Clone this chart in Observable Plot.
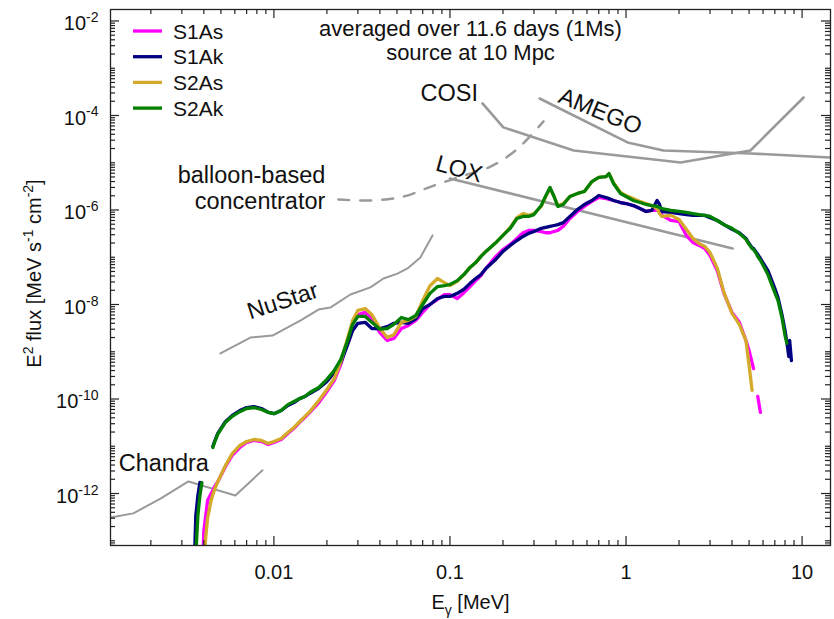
<!DOCTYPE html>
<html><head><meta charset="utf-8">
<script src="https://cdn.jsdelivr.net/npm/d3@7"></script>
<script src="https://cdn.jsdelivr.net/npm/@observablehq/plot@0.6"></script>
<style>
body{margin:0;background:#fff;}
svg{font-family:"Liberation Sans",Arial,Helvetica,sans-serif;}
</style></head><body><div id="chart"></div>
<script>
// ---------- data (E in MeV, E^2 flux in MeV s^-1 cm^-2) ----------
const energy = [
  0.0035,0.0036,0.0037,0.0038,0.0039,0.0040,0.0041,0.0042,0.0044,0.0045,   // 0-9
  0.0046,0.0048,0.0053,0.0058,0.0064,0.0070,0.0077,0.0085,0.0093,0.010,    // 10-19
  0.011,0.012,0.013,0.014,0.015,0.016,0.018,0.020,0.022,0.024,             // 20-29
  0.026,0.028,0.030,0.033,0.036,0.040,0.044,0.048,0.053,0.058,             // 30-39
  0.064,0.070,0.077,0.085,0.093,0.10,0.11,0.12,0.13,0.14,                  // 40-49
  0.15,0.16,0.18,0.20,0.22,0.24,0.26,0.28,0.30,0.33,                       // 50-59
  0.35,0.37,0.39,0.41,0.44,0.48,0.53,0.58,0.64,0.70,                       // 60-69
  0.77,0.80,0.85,0.93,1.0,1.1,1.2,1.3,1.4,1.5,                             // 70-79
  1.55,1.6,1.8,2.0,2.2,2.4,2.6,2.8,3.0,3.3,                                // 80-89
  3.6,4.0,4.4,4.8,5.0,5.2,5.3,5.45,5.6,5.8,                                // 90-99
  6.4,7.0,7.3,7.7,8.0,8.2,8.4,8.5,8.7                                      // 100-108
];
const S1As = [
  null,null,null,null,1e-14,1.65e-13,3.4e-13,7.1e-13,1.0e-12,1.16e-12,
  1.40e-12,1.78e-12,3.7e-12,6.4e-12,9.4e-12,1.2e-11,1.33e-11,1.26e-11,1.09e-11,1.2e-11,
  1.39e-11,1.87e-11,2.4e-11,3.2e-11,4.1e-11,5.2e-11,8.4e-11,1.44e-10,2.46e-10,5.4e-10,
  1.5e-9,3.8e-9,6.1e-9,6.8e-9,5.0e-9,2.55e-9,1.73e-9,1.91e-9,3.1e-9,3.6e-9,
  4.6e-9,6.8e-9,1.0e-8,1.28e-8,1.62e-8,1.62e-8,1.34e-8,1.78e-8,2.4e-8,3.2e-8,
  4.1e-8,5.8e-8,9.9e-8,1.46e-7,1.87e-7,2.5e-7,3.3e-7,3.7e-7,3.7e-7,3.5e-7,
  3.3e-7,3.3e-7,3.5e-7,3.7e-7,4.5e-7,6.6e-7,9.3e-7,1.19e-6,1.52e-6,1.84e-6,
  1.75e-6,1.68e-6,1.59e-6,1.44e-6,1.37e-6,1.24e-6,1.07e-6,9.3e-7,9.8e-7,9.8e-7,
  1.02e-6,7.7e-7,6.0e-7,5.7e-7,2.9e-7,2.05e-7,1.78e-7,1.53e-7,1.09e-7,5.2e-8,
  1.72e-8,6.8e-9,4.2e-9,1.73e-9,1.06e-9,5.9e-10,4.4e-10,null,1.13e-10,5.2e-11,
  null,null,null,null,null,null,null,null,null
];
const S1Ak = [
  1e-14,3.4e-13,9.1e-13,1.72e-12,null,null,null,null,null,9.9e-12,
  1.26e-11,1.87e-11,3.3e-11,4.5e-11,5.7e-11,6.6e-11,6.9e-11,6.3e-11,5.2e-11,4.9e-11,
  5.7e-11,7.3e-11,8.4e-11,1.02e-10,1.13e-10,1.31e-10,1.68e-10,2.35e-10,3.6e-10,5.9e-10,
  1.29e-9,2.8e-9,4.0e-9,4.2e-9,3.1e-9,3.1e-9,3.4e-9,4.0e-9,4.2e-9,4.0e-9,
  5.0e-9,8.2e-9,1.0e-8,1.34e-8,1.48e-8,1.48e-8,1.72e-8,2.1e-8,2.8e-8,3.55e-8,
  4.3e-8,5.8e-8,8.6e-8,1.33e-7,1.78e-7,2.26e-7,2.75e-7,3.2e-7,3.5e-7,4.1e-7,
  4.3e-7,4.5e-7,4.7e-7,4.9e-7,5.4e-7,7.3e-7,1.02e-6,1.31e-6,1.59e-6,2.03e-6,
  1.84e-6,1.75e-6,1.59e-6,1.44e-6,1.37e-6,1.24e-6,1.07e-6,9.3e-7,9.8e-7,1.59e-6,
  1.31e-6,9.3e-7,8.9e-7,8.4e-7,8.0e-7,7.7e-7,7.7e-7,7.7e-7,6.9e-7,6.0e-7,
  4.9e-7,3.9e-7,3.3e-7,2.5e-7,1.95e-7,1.59e-7,1.53e-7,1.33e-7,1.15e-7,9.4e-8,
  5.2e-8,2.2e-8,1.4e-8,5.9e-9,2.8e-9,1.57e-9,7.9e-10,1.73e-9,6.5e-10
];
const S2As = [
  null,null,null,null,null,3e-14,1.2e-13,3.0e-13,7.1e-13,9.5e-13,
  1.21e-12,1.78e-12,3.9e-12,7.0e-12,1.04e-11,1.26e-11,1.39e-11,1.33e-11,1.15e-11,1.26e-11,
  1.46e-11,1.95e-11,2.5e-11,3.3e-11,4.3e-11,5.4e-11,9.3e-11,1.59e-10,2.7e-10,6.2e-10,
  1.73e-9,4.6e-9,7.5e-9,8.2e-9,6.1e-9,3.1e-9,2.0e-9,2.3e-9,4.2e-9,4.6e-9,
  5.6e-9,1.21e-8,2.5e-8,3.55e-8,2.9e-8,2.5e-8,3.1e-8,4.3e-8,6.1e-8,7.7e-8,
  1.04e-7,1.33e-7,1.95e-7,2.9e-7,4.3e-7,6.9e-7,8.4e-7,7.7e-7,8.4e-7,1.19e-6,
  1.93e-6,2.86e-6,1.93e-6,1.24e-6,1.37e-6,1.93e-6,2.24e-6,2.46e-6,4.0e-6,4.9e-6,
  5.1e-6,5.9e-6,3.8e-6,2.35e-6,2.03e-6,1.75e-6,1.52e-6,1.37e-6,1.24e-6,1.07e-6,
  8.4e-7,7.3e-7,7.7e-7,6.3e-7,3.9e-7,2.5e-7,1.95e-7,1.7e-7,1.26e-7,5.8e-8,
  1.78e-8,6.5e-9,3.8e-9,1.73e-9,5.1e-10,1.52e-10,null,null,null,null,
  null,null,null,null,null,null,null,null,null
];
const S2Ak = [
  null,5e-14,3.4e-13,9.1e-13,1.7e-12,null,null,null,null,9.4e-12,
  1.2e-11,1.8e-11,3.2e-11,4.3e-11,5.4e-11,6.3e-11,6.6e-11,6.0e-11,5.2e-11,4.9e-11,
  5.7e-11,7.6e-11,8.9e-11,1.02e-10,1.13e-10,1.37e-10,1.75e-10,2.6e-10,4.0e-10,6.9e-10,
  1.57e-9,3.8e-9,5.6e-9,5.6e-9,4.2e-9,3.0e-9,3.1e-9,3.8e-9,5.3e-9,4.8e-9,
  5.9e-9,1.0e-8,1.72e-8,2.4e-8,2.5e-8,2.65e-8,3.2e-8,4.3e-8,6.1e-8,7.7e-8,
  1.04e-7,1.33e-7,1.95e-7,2.9e-7,4.1e-7,6.6e-7,7.3e-7,7.3e-7,8.0e-7,1.24e-6,
  2.0e-6,3.0e-6,1.93e-6,1.19e-6,1.31e-6,1.93e-6,2.24e-6,2.46e-6,4.0e-6,4.9e-6,
  5.1e-6,5.9e-6,3.6e-6,2.24e-6,1.93e-6,1.59e-6,1.44e-6,1.31e-6,1.24e-6,1.19e-6,
  1.13e-6,1.07e-6,9.8e-7,9.3e-7,8.9e-7,8.4e-7,8.0e-7,7.7e-7,7.3e-7,6.0e-7,
  4.9e-7,4.1e-7,3.2e-7,2.4e-7,1.87e-7,1.53e-7,1.46e-7,1.26e-7,1.04e-7,8.6e-8,
  4.3e-8,1.78e-8,1.21e-8,5.1e-9,2.2e-9,1.5e-9,null,null,null
];
const seriesNames  = ["S1As","S1Ak","S2As","S2Ak"];
const seriesColors = ["#ff00ff","#000080","#d4aa2a","#008000"];
const seriesValues = [S1As, S1Ak, S2As, S2Ak];

// instrument sensitivities
const chandraE = [0.00118,0.00159,0.00227,0.00327,0.00604,0.00861];
const chandraF = [3.1e-13,3.8e-13,7.8e-13,1.8e-12,9.1e-13,3.1e-12];
const nustarE  = [0.00497,0.00735,0.00981,0.0142,0.0179,0.0209,0.0272,0.0353,0.0419,0.0503,0.0574,0.0679,0.0796];
const nustarF  = [9.2e-10,2.0e-9,2.2e-9,4.6e-9,7.8e-9,8.6e-9,1.63e-8,2.3e-8,3.55e-8,4.5e-8,5.8e-8,9.9e-8,2.9e-7];
const balloonE = [0.0232,0.0353,0.0545,0.0775,0.115,0.170,0.236,0.340];
const balloonF = [1.67e-6,1.59e-6,1.93e-6,3.1e-6,5.1e-6,8.3e-6,1.82e-5,7.5e-5];
const loxE     = [0.100,4.03];
const loxF     = [4.64e-6,1.53e-7];
const cosiE    = [0.153,0.201,0.504,2.04,5.09,10.2];
const cosiF    = [1.80e-4,5.6e-5,1.82e-5,1.01e-5,1.82e-5,2.40e-4];
const amegoE   = [0.323,1.02,1.63,5.09,14.5];
const amegoF   = [2.29e-4,2.69e-5,1.82e-5,1.57e-5,1.29e-5];

// labels
const xTickValues = [0.01,0.1,1,10];
const xTickLabels = ["0.01","0.1","1","10"];
const yTickValues = [1e-12,1e-10,1e-8,1e-6,1e-4,1e-2];
const yTickLabels = ["10^{-12}","10^{-10}","10^{-8}","10^{-6}","10^{-4}","10^{-2}"];
const titleLines = ["averaged over 11.6 days (1Ms)","source at 10 Mpc"];
const annotations = [
  {text:"COSI", E:0.099, F:3.07e-4},
  {text:"AMEGO", E:0.716, F:1.25e-4},
  {text:"LOX", E:0.113, F:7.55e-6},
  {text:"balloon-based\nconcentrator", E:0.0196, F:2.92e-6},
  {text:"NuStar", E:0.0112, F:1.22e-8},
  {text:"Chandra", E:0.00237, F:4.53e-12}
];
const xLabel = "E_{γ} [MeV]";
const yLabel = "E^{2} flux [MeV s^{-1} cm^{-2}]";

// ---------- layout ----------
const W=834, H=619, mL=110, mR=4, mT=9, mB=74;
const fw = W-mL-mR, fh = H-mT-mB;
const xDomain = [0.00118, 14.5], yDomain = [7.94e-14, 1.75e-2];
const inX = v => v >= xDomain[0] && v <= xDomain[1];
const inY = v => v >= yDomain[0] && v <= yDomain[1];
const mults = [2,3,4,5,6,7,8,9];
const xMinor = [1e-3,1e-2,1e-1,1,10].flatMap(d => mults.map(m => +(m*d).toPrecision(3))).filter(inX);
const yMinor = d3.range(-14,-2).flatMap(e => mults.map(m => +(m*Math.pow(10,e)).toPrecision(3))).filter(inY)
  .concat([1e-13,1e-11,1e-9,1e-7,1e-5,1e-3]);

const pts = (E,F) => E.map((e,i) => ({E:e, F:F[i]}));
const gray = "#9a9a9a";
const tick = {stroke:"#222", strokeOpacity:1, strokeWidth:1.2};

const marks = [
  Plot.line(pts(chandraE,chandraF), {x:"E", y:"F", stroke:gray, strokeWidth:2, clip:true}),
  Plot.line(pts(nustarE,nustarF),   {x:"E", y:"F", stroke:gray, strokeWidth:2, clip:true}),
  Plot.line(pts(balloonE,balloonF), {x:"E", y:"F", stroke:gray, strokeWidth:2.4, strokeDasharray:"11,11", curve:"catmull-rom", clip:true}),
  Plot.line(pts(loxE,loxF),         {x:"E", y:"F", stroke:gray, strokeWidth:2.6, clip:true}),
  Plot.line(pts(cosiE,cosiF),       {x:"E", y:"F", stroke:gray, strokeWidth:2.6, clip:true}),
  Plot.line(pts(amegoE,amegoF),     {x:"E", y:"F", stroke:gray, strokeWidth:2.6, clip:true}),
];
seriesValues.forEach((vals,k) => {
  marks.push(Plot.line(pts(energy, vals), {x:"E", y:"F", stroke:seriesColors[k], strokeWidth:3.3, clip:true, strokeLinejoin:"round"}));
});
// annotations
const rot = {"AMEGO":22, "LOX":15, "NuStar":-18};
annotations.forEach(a => {
  marks.push(Plot.text([a], {x:"E", y:"F", text:"text", fontSize:23.5, fill:"#111",
    rotate: rot[a.text] || 0, textAnchor: a.text.startsWith("balloon") ? "end" : "middle", lineHeight:1.08}));
});
marks.push(
  Plot.text([titleLines[0]], {frameAnchor:"top", lineAnchor:"middle", dy:19, fontSize:22, fill:"#111"}),
  Plot.text([titleLines[1]], {frameAnchor:"top", lineAnchor:"middle", dy:43.5, fontSize:22, fill:"#111"}),
  // ticks (inward, mirrored)
  Plot.gridX(xTickValues, {...tick, insetTop: fh-9}),
  Plot.gridX(xTickValues, {...tick, insetBottom: fh-9}),
  Plot.gridX(xMinor, {...tick, insetTop: fh-5}),
  Plot.gridX(xMinor, {...tick, insetBottom: fh-5}),
  Plot.gridY(yTickValues, {...tick, insetRight: fw-9}),
  Plot.gridY(yTickValues, {...tick, insetLeft: fw-9}),
  Plot.gridY(yMinor, {...tick, insetRight: fw-5}),
  Plot.gridY(yMinor, {...tick, insetLeft: fw-5}),
  Plot.axisX(xTickValues, {anchor:"bottom", tickSize:0, tickPadding:19, label:null, fontSize:20,
    tickFormat: d => xTickLabels[xTickValues.indexOf(d)]}),
  Plot.axisY(yTickValues, {anchor:"left", tickSize:0, tickPadding:12, label:null, fontSize:20, dy:3,
    tickFormat: d => yTickLabels[yTickValues.indexOf(d)]}),
  Plot.text([xLabel], {frameAnchor:"bottom", lineAnchor:"middle", dy:57, fontSize:20, fill:"#111"}),
  Plot.text([yLabel], {frameAnchor:"left", textAnchor:"middle", lineAnchor:"middle", dx:-76, dy:-4, rotate:-90, fontSize:20, fill:"#111"}),
  Plot.frame({stroke:"#222", strokeWidth:1.3})
);

const chart = Plot.plot({
  width:W, height:H, marginLeft:mL, marginRight:mR, marginTop:mT, marginBottom:mB,
  x:{type:"log", domain:xDomain},
  y:{type:"log", domain:yDomain},
  style:{fontFamily:'"Liberation Sans",Arial,Helvetica,sans-serif', fontSize:"20px", background:"white", color:"#111"},
  marks
});
document.getElementById("chart").appendChild(chart);

// legend inside the frame
const svg = d3.select(chart);
const lg = svg.append("g").attr("text-anchor","start");
seriesNames.forEach((name,i) => {
  const y = 31 + 25.7*i;
  lg.append("line").attr("x1",133).attr("x2",162).attr("y1",y).attr("y2",y)
    .attr("stroke",seriesColors[i]).attr("stroke-width",3.3);
  lg.append("text").attr("x",173).attr("y",y).attr("dy","0.36em").attr("text-anchor","start")
    .attr("font-size",21).attr("fill","#111").text(name);
});

// super/subscripts
function richText(root){
  root.querySelectorAll("text").forEach(t => {
    if (t.querySelector("tspan")) return;
    const s = t.textContent;
    if (!/[\^_]\{/.test(s)) return;
    const fs = parseFloat(getComputedStyle(t).fontSize) || 20;
    t.textContent = "";
    const re = /([\^_])\{([^}]*)\}/g;
    let last = 0, m, shift = 0;
    const add = (str, kind) => {
      const ts = document.createElementNS("http://www.w3.org/2000/svg","tspan");
      const target = kind==="sup" ? -0.42*fs : kind==="sub" ? 0.3*fs : 0;
      const dy = target - shift; shift = target;
      if (dy) ts.setAttribute("dy", dy);
      if (kind) ts.setAttribute("font-size", 0.7*fs);
      ts.textContent = str;
      t.appendChild(ts);
    };
    while ((m = re.exec(s))) {
      if (m.index > last) add(s.slice(last, m.index), null);
      add(m[2], m[1]==="^" ? "sup" : "sub");
      last = re.lastIndex;
    }
    if (last < s.length) add(s.slice(last), null);
  });
}
richText(chart);
</script></body></html>
